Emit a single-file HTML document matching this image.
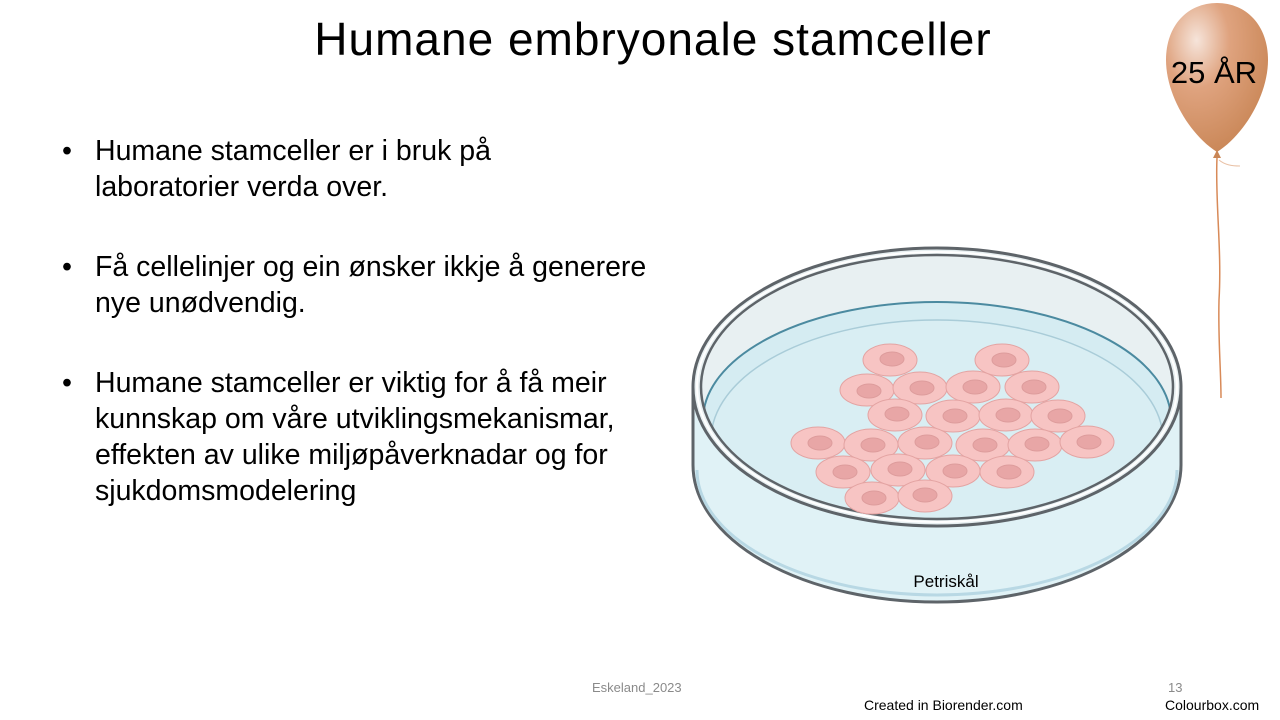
<!DOCTYPE html>
<html><head><meta charset="utf-8"><style>
body{margin:0;width:1280px;height:720px;background:#fff;position:relative;overflow:hidden;font-family:"Liberation Sans",sans-serif}
.t{position:absolute;white-space:nowrap;color:#000}
ul{position:absolute;left:62px;top:133px;margin:0;padding:0;list-style:none;font-size:28.5px;line-height:36px;letter-spacing:0px}
li{position:relative;padding-left:33px;margin-bottom:44px}
li:before{content:"•";position:absolute;left:0;top:0}
</style></head><body>
<div class="t" style="left:0;width:1306px;text-align:center;top:12px;font-size:46px;letter-spacing:1px">Humane embryonale stamceller</div>
<ul>
<li>Humane stamceller er i bruk på<br>laboratorier verda over.</li>
<li>Få cellelinjer og ein ønsker ikkje å generere<br>nye unødvendig.</li>
<li>Humane stamceller er viktig for å få meir<br>kunnskap om våre utviklingsmekanismar,<br>effekten av ulike miljøpåverknadar og for<br>sjukdomsmodelering</li>
</ul>
<svg style="position:absolute;left:0;top:0" width="1280" height="720">
<defs>
<radialGradient id="bg" cx="0.3" cy="0.25" r="0.8"><stop offset="0" stop-color="#f6e4da"/><stop offset="0.4" stop-color="#dfa37f"/><stop offset="1" stop-color="#c98656"/></radialGradient>
<clipPath id="rim"><ellipse cx="937" cy="387" rx="236" ry="132"/></clipPath>
</defs>
<path d="M693 387 L693 465 A244 137 0 0 0 1181 465 L1181 387 Z" fill="#e0f2f6" stroke="#5e6469" stroke-width="3"/>
<ellipse cx="937" cy="387" rx="244" ry="139" fill="#e8f0f2" stroke="#5e6469" stroke-width="3"/>
<g clip-path="url(#rim)">
<ellipse cx="937" cy="420" rx="234" ry="118" fill="#d5ecf2" stroke="#4b8aa0" stroke-width="2"/>
<ellipse cx="937" cy="440" rx="226" ry="120" fill="#d9eef3" stroke="#a9ccd8" stroke-width="1.5"/>
</g>
<ellipse cx="937" cy="387" rx="236" ry="132" fill="none" stroke="#5e6469" stroke-width="2.5"/>
<ellipse cx="937" cy="387" rx="240" ry="135" fill="none" stroke="#fff" stroke-width="2"/>
<path d="M697 470 A240 125 0 0 0 1177 470" fill="none" stroke="#b8d8e4" stroke-width="3"/>
<g fill="#f7c4c3" stroke="#e3a3a2" stroke-width="1">
<ellipse cx="890" cy="360" rx="27" ry="16"/><ellipse cx="1002" cy="360" rx="27" ry="16"/>
<ellipse cx="867" cy="390" rx="27" ry="16"/><ellipse cx="920" cy="388" rx="27" ry="16"/><ellipse cx="973" cy="387" rx="27" ry="16"/><ellipse cx="1032" cy="387" rx="27" ry="16"/>
<ellipse cx="895" cy="415" rx="27" ry="16"/><ellipse cx="953" cy="416" rx="27" ry="16"/><ellipse cx="1006" cy="415" rx="27" ry="16"/><ellipse cx="1058" cy="416" rx="27" ry="16"/>
<ellipse cx="818" cy="443" rx="27" ry="16"/><ellipse cx="871" cy="445" rx="27" ry="16"/><ellipse cx="925" cy="443" rx="27" ry="16"/><ellipse cx="983" cy="445" rx="27" ry="16"/><ellipse cx="1035" cy="445" rx="27" ry="16"/><ellipse cx="1087" cy="442" rx="27" ry="16"/>
<ellipse cx="843" cy="472" rx="27" ry="16"/><ellipse cx="898" cy="470" rx="27" ry="16"/><ellipse cx="953" cy="471" rx="27" ry="16"/><ellipse cx="1007" cy="472" rx="27" ry="16"/>
<ellipse cx="872" cy="498" rx="27" ry="16"/><ellipse cx="925" cy="496" rx="27" ry="16"/>
</g>
<g fill="#e8a6a6" stroke="#dd9c9c">
<ellipse cx="892" cy="359" rx="12" ry="7"/><ellipse cx="1004" cy="360" rx="12" ry="7"/>
<ellipse cx="869" cy="391" rx="12" ry="7"/><ellipse cx="922" cy="388" rx="12" ry="7"/><ellipse cx="975" cy="387" rx="12" ry="7"/><ellipse cx="1034" cy="387" rx="12" ry="7"/>
<ellipse cx="897" cy="414" rx="12" ry="7"/><ellipse cx="955" cy="416" rx="12" ry="7"/><ellipse cx="1008" cy="415" rx="12" ry="7"/><ellipse cx="1060" cy="416" rx="12" ry="7"/>
<ellipse cx="820" cy="443" rx="12" ry="7"/><ellipse cx="873" cy="445" rx="12" ry="7"/><ellipse cx="927" cy="442" rx="12" ry="7"/><ellipse cx="985" cy="445" rx="12" ry="7"/><ellipse cx="1037" cy="444" rx="12" ry="7"/><ellipse cx="1089" cy="442" rx="12" ry="7"/>
<ellipse cx="845" cy="472" rx="12" ry="7"/><ellipse cx="900" cy="469" rx="12" ry="7"/><ellipse cx="955" cy="471" rx="12" ry="7"/><ellipse cx="1009" cy="472" rx="12" ry="7"/>
<ellipse cx="874" cy="498" rx="12" ry="7"/><ellipse cx="925" cy="495" rx="12" ry="7"/>
</g>
<text x="946" y="587" font-size="17" text-anchor="middle" font-family="Liberation Sans, sans-serif">Petriskål</text>
<path d="M1217 152 C1190 135 1166 95 1166 60 C1166 25 1188 3 1217 3 C1246 3 1268 25 1268 60 C1268 95 1244 135 1217 152 Z" fill="url(#bg)"/>
<path d="M1213 158 L1217 150 L1221 158 Z" fill="#c98656"/>
<path d="M1217 158 C1215 200 1222 250 1219 300 C1218 340 1221 370 1221 398" fill="none" stroke="#d88a58" stroke-width="1.5"/>
<path d="M1219 160 C1225 165 1232 166 1240 166" fill="none" stroke="#e9c0a4" stroke-width="1"/>
<text x="1214" y="83" font-size="31" text-anchor="middle" font-family="Liberation Sans, sans-serif">25 ÅR</text>
</svg>
<div class="t" style="left:592px;top:680px;font-size:13px;color:#8a8a8a">Eskeland_2023</div>
<div class="t" style="left:1168px;top:680px;font-size:13px;color:#8a8a8a">13</div>
<div class="t" style="left:864px;top:697px;font-size:14px">Created in Biorender.com</div>
<div class="t" style="left:1165px;top:697px;font-size:14px">Colourbox.com</div>
</body></html>
